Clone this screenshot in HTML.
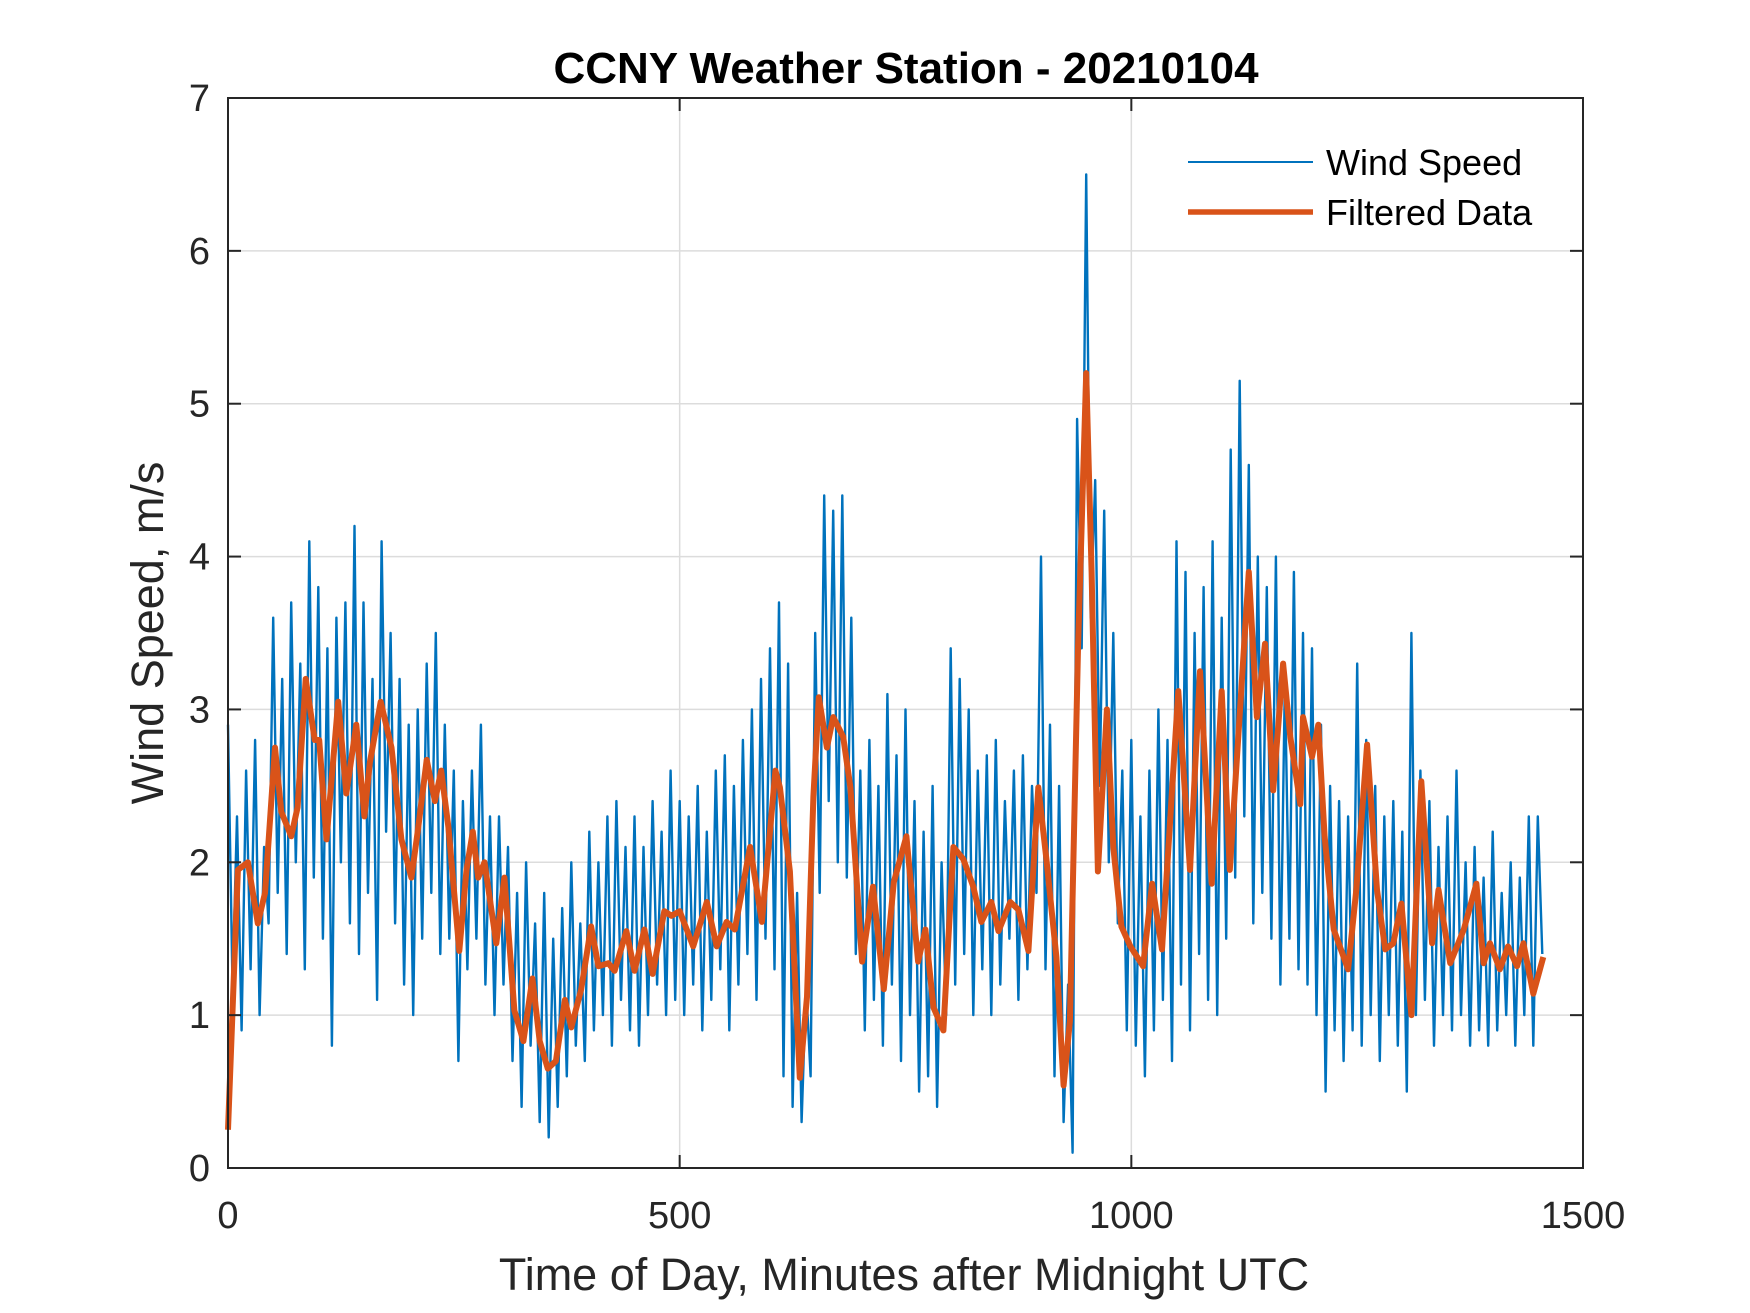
<!DOCTYPE html>
<html><head><meta charset="utf-8"><style>
html,body{margin:0;padding:0;background:#fff;}
svg{display:block;font-family:"Liberation Sans",Arial,sans-serif;}
</style></head><body>
<svg id="chart" width="1750" height="1313" viewBox="0 0 1750 1313">
<rect x="0" y="0" width="1750" height="1313" fill="#fff"/>
<rect x="228" y="98" width="1355" height="1070" fill="#fff"/>
<g id="grid"></g>
<g id="series"></g>
<rect x="228" y="98" width="1355" height="1070" fill="none" stroke="#262626" stroke-width="2"/>
<g id="ticks"></g>
<text x="906" y="83" text-anchor="middle" font-size="44" font-weight="bold" fill="#000">CCNY Weather Station - 20210104</text>
<text x="904" y="1290" text-anchor="middle" font-size="45" fill="#262626">Time of Day, Minutes after Midnight UTC</text>
<text transform="translate(163,633) rotate(-90)" text-anchor="middle" font-size="45" fill="#262626">Wind Speed, m/s</text>
<g>
<line x1="1188" y1="162" x2="1313" y2="162" stroke="#0072BD" stroke-width="2"/>
<text x="1326" y="175" font-size="36" fill="#000">Wind Speed</text>
<line x1="1188" y1="212" x2="1313" y2="212" stroke="#D95319" stroke-width="5.5"/>
<text x="1326" y="225" font-size="36" fill="#000">Filtered Data</text>
</g>
</svg>
<script>
const xTicks = [0, 500, 1000, 1500];
const yTicks = [0, 1, 2, 3, 4, 5, 6, 7];
const rawStep = 5;
const rawValues = [
2.9,1.2,2.3,0.9,2.6,1.3,2.8,1.0,2.1,1.6,
3.6,1.8,3.2,1.4,3.7,2.0,3.3,1.3,4.1,1.9,
3.8,1.5,3.4,0.8,3.6,2.0,3.7,1.6,4.2,1.4,
3.7,1.8,3.2,1.1,4.1,2.2,3.5,1.6,3.2,1.2,
2.9,1.0,3.0,1.5,3.3,1.8,3.5,1.4,2.9,1.5,
2.6,0.7,2.4,1.3,2.6,1.5,2.9,1.2,2.3,1.0,
2.3,1.2,2.1,0.7,1.8,0.4,2.0,0.8,1.6,0.3,
1.8,0.2,1.5,0.4,1.7,0.6,2.0,0.8,1.6,0.7,
2.2,0.9,2.0,1.0,2.3,0.8,2.4,1.1,2.1,0.9,
2.3,0.8,2.1,1.0,2.4,1.2,2.2,1.0,2.6,1.1,
2.4,1.0,2.3,1.2,2.5,0.9,2.2,1.1,2.6,1.3,
2.7,0.9,2.5,1.2,2.8,1.4,3.0,1.1,3.2,1.5,
3.4,1.3,3.7,0.6,3.3,0.4,1.8,0.3,1.2,0.6,
3.5,1.8,4.4,2.4,4.3,2.0,4.4,1.9,3.6,1.4,
2.6,0.9,2.8,1.1,2.5,0.8,3.1,1.2,2.7,0.7,
3.0,1.0,2.4,0.5,2.2,0.6,2.5,0.4,2.0,1.0,
3.4,1.2,3.2,1.4,3.0,1.0,2.6,1.3,2.7,1.0,
2.8,1.2,2.4,1.5,2.6,1.1,2.7,1.3,2.5,1.8,
4.0,1.3,2.9,0.6,2.5,0.3,1.2,0.1,4.9,3.4,
6.5,3.6,4.5,2.5,4.3,2.0,3.5,1.6,2.6,0.9,
2.8,0.8,2.3,0.6,2.6,0.9,3.0,1.1,2.8,0.7,
4.1,1.2,3.9,0.9,3.5,1.4,3.8,1.1,4.1,1.0,
3.6,1.5,4.7,1.9,5.15,2.3,4.6,1.6,4.0,1.8,
3.8,1.5,4.0,1.2,3.2,1.5,3.9,1.3,3.5,1.2,
3.4,1.0,2.9,0.5,2.5,0.9,2.4,0.7,2.3,0.9,
3.3,0.8,2.8,1.0,2.5,0.7,2.3,1.0,2.4,0.8,
2.2,0.5,3.5,1.0,2.6,1.1,2.4,0.8,2.1,1.0,
2.3,0.9,2.6,1.0,2.0,0.8,2.1,0.9,1.9,0.8,
2.2,0.9,1.8,1.0,2.0,0.8,1.9,1.0,2.3,0.8,
2.3,1.4
];
const filtTimes = [0,11,22,33,41,52,59,70,77,86,96,101,109,122,131,142,151,157,169,181,192,203,210,220,229,236,244,256,264,271,277,284,297,306,317,327,337,345,354,363,373,380,391,402,410,421,428,441,450,461,470,483,491,500,
515,530,541,552,561,578,591,606,611,622,633,641,648,654,663,670,681,689,702,714,726,737,751,764,772,781,792,803,814,825,834,845,853,866,875,886,897,906,917,925,932,941,950,956,963,973,980,989,999,
1013,1023,1034,1052,1065,1076,1089,1100,1109,1130,1139,1148,1157,1168,1176,1187,1190,1200,1207,1214,1224,1240,1249,1261,1272,1281,1290,1299,1310,1321,1333,1340,1353,1368,1382,1390,1397,1408,1417,1427,1434,1445,1456];
const filtValues = [0.25,1.95,2.0,1.6,1.8,2.75,2.33,2.17,2.36,3.2,2.8,2.8,2.15,3.05,2.45,2.9,2.3,2.65,3.05,2.75,2.15,1.9,2.2,2.67,2.4,2.6,2.23,1.42,1.95,2.2,1.9,2.0,1.47,1.9,1.03,0.83,1.24,0.83,0.65,0.7,1.1,0.92,1.17,1.58,1.32,1.34,1.29,1.55,1.29,1.56,1.27,1.68,1.65,1.68,
1.45,1.74,1.45,1.61,1.56,2.1,1.61,2.6,2.49,1.94,0.59,1.12,2.43,3.08,2.75,2.95,2.82,2.49,1.35,1.84,1.17,1.87,2.17,1.35,1.56,1.05,0.9,2.1,2.02,1.84,1.61,1.74,1.55,1.74,1.69,1.42,2.49,2.02,1.38,0.54,0.96,3.4,5.2,3.9,1.94,3.0,2.1,1.58,1.45,
1.32,1.86,1.43,3.12,1.95,3.25,1.86,3.12,1.95,3.9,2.95,3.43,2.47,3.3,2.82,2.38,2.95,2.69,2.9,2.17,1.56,1.3,1.82,2.77,1.82,1.43,1.47,1.73,1.0,2.53,1.47,1.82,1.34,1.56,1.86,1.34,1.47,1.3,1.45,1.32,1.47,1.14,1.38];

const X0 = 228, X1 = 1583, Y0 = 1168, Y1 = 98;
function xs(t){ return X0 + (t - 0) / 1500 * (X1 - X0); }
function ys(v){ return Y0 - (v - 0) / 7 * (Y0 - Y1); }
const NS = 'http://www.w3.org/2000/svg';
const grid = document.getElementById('grid');
const ticks = document.getElementById('ticks');
const series = document.getElementById('series');

xTicks.forEach(t => {
  const x = xs(t);
  if (t > 0 && t < 1500) {
    const g = document.createElementNS(NS, 'line');
    g.setAttribute('x1', x); g.setAttribute('x2', x); g.setAttribute('y1', Y1); g.setAttribute('y2', Y0);
    g.setAttribute('stroke', '#dcdcdc'); g.setAttribute('stroke-width', '1.5');
    
    
    grid.appendChild(g);
  }
  [[Y0, Y0 - 13], [Y1, Y1 + 13]].forEach(p => {
    const tk = document.createElementNS(NS, 'line');
    tk.setAttribute('x1', x); tk.setAttribute('x2', x); tk.setAttribute('y1', p[0]); tk.setAttribute('y2', p[1]);
    tk.setAttribute('stroke', '#262626'); tk.setAttribute('stroke-width', '2');
    
    
    ticks.appendChild(tk);
  });
  const lb = document.createElementNS(NS, 'text');
  lb.setAttribute('x', x); lb.setAttribute('y', 1228);
  lb.setAttribute('text-anchor', 'middle'); lb.setAttribute('font-size', '38'); lb.setAttribute('fill', '#262626');
  lb.textContent = t;
  
  
  ticks.appendChild(lb);
});

yTicks.forEach(v => {
  const y = ys(v);
  if (v > 0 && v < 7) {
    const g = document.createElementNS(NS, 'line');
    g.setAttribute('x1', X0); g.setAttribute('x2', X1); g.setAttribute('y1', y); g.setAttribute('y2', y);
    g.setAttribute('stroke', '#dcdcdc'); g.setAttribute('stroke-width', '1.5');
    
    
    grid.appendChild(g);
  }
  [[X0, X0 + 13], [X1, X1 - 13]].forEach(p => {
    const tk = document.createElementNS(NS, 'line');
    tk.setAttribute('x1', p[0]); tk.setAttribute('x2', p[1]); tk.setAttribute('y1', y); tk.setAttribute('y2', y);
    tk.setAttribute('stroke', '#262626'); tk.setAttribute('stroke-width', '2');
    
    
    ticks.appendChild(tk);
  });
  const lb = document.createElementNS(NS, 'text');
  lb.setAttribute('x', 210); lb.setAttribute('y', y + 13);
  lb.setAttribute('text-anchor', 'end'); lb.setAttribute('font-size', '38'); lb.setAttribute('fill', '#262626');
  lb.textContent = v;
  
  
  ticks.appendChild(lb);
});

const rawPts = rawValues.map((v, i) => xs(i * rawStep).toFixed(1) + ',' + ys(v).toFixed(1)).join(' ');
const raw = document.createElementNS(NS, 'polyline');
raw.setAttribute('points', rawPts);
raw.setAttribute('fill', 'none'); raw.setAttribute('stroke', '#0072BD'); raw.setAttribute('stroke-width', '2.4');
raw.setAttribute('stroke-linejoin', 'round');


series.appendChild(raw);

const fPts = filtTimes.map((t, i) => xs(t).toFixed(1) + ',' + ys(filtValues[i]).toFixed(1)).join(' ');
const filt = document.createElementNS(NS, 'polyline');
filt.setAttribute('points', fPts);
filt.setAttribute('fill', 'none'); filt.setAttribute('stroke', '#D95319'); filt.setAttribute('stroke-width', '6');
filt.setAttribute('stroke-linejoin', 'round');


series.appendChild(filt);
</script>
</body></html>
